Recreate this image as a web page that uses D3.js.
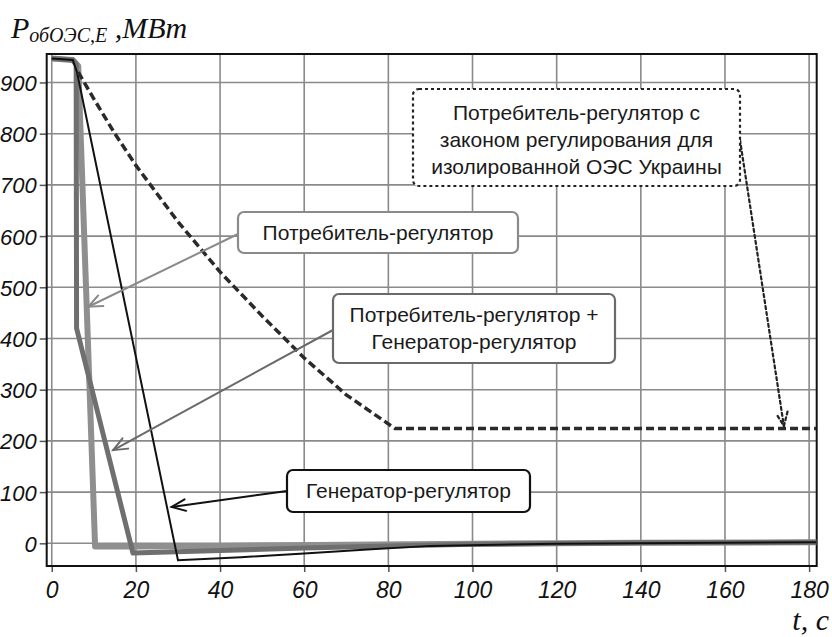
<!DOCTYPE html>
<html>
<head>
<meta charset="utf-8">
<script src="https://cdn.jsdelivr.net/npm/d3@7"></script>
<style>
  html, body { margin: 0; padding: 0; background: #fff; }
  svg { display: block; }
  .tick-label { font-family: "Liberation Sans", Arial, sans-serif; font-style: italic; font-size: 22px; fill: #111; }
  .x-label { font-size: 23px; }
  .note { font-family: "Liberation Sans", Arial, sans-serif; font-size: 21px; fill: #1a1a1a; }
  .title { font-family: "Liberation Serif", "Times New Roman", serif; font-style: italic; fill: #111; }
</style>
</head>
<body>
<div id="chart"></div>
<script>
// Данные (t, c / P, МВт)
const xTicks = [0, 20, 40, 60, 80, 100, 120, 140, 160, 180];
const yTicks = [0, 100, 200, 300, 400, 500, 600, 700, 800, 900];

// Потребитель-регулятор (светло-серая толстая)
const consT = [0, 5, 6.3, 10.3, 20, 40, 70, 100, 140, 181.7];
const consP = [947, 944, 932, -6, -6, -5, -3, -1, 1, 2];

// Потребитель-регулятор + Генератор-регулятор (тёмно-серая)
const bothT = [0, 5, 5.8, 5.9, 19.3, 40, 60, 80, 100, 140, 181.7];
const bothP = [947, 944, 935, 420, -19, -14, -9, -5, -2, 1, 2];

// Генератор-регулятор (тонкая чёрная)
const genT = [0, 5, 6, 30, 45, 60, 75, 90, 120, 181.7];
const genP = [947, 944, 920, -33, -27, -20, -12, -5, -1, 2];

// Закон регулирования для изолированной ОЭС (пунктир)
const isoT = [6.3, 10, 15, 20, 30, 40, 50, 60, 70, 81.6, 181.7];
const isoP = [920, 868, 800, 738, 628, 530, 444, 362, 290, 224, 224];

const width = 832, height = 637;
const plot = {left: 46.7, right: 816.7, top: 54, bottom: 566};

const x = d3.scaleLinear().domain([-1.2, 181.8]).range([plot.left, plot.right]);
const y = d3.scaleLinear().domain([-44.3, 955.6]).range([plot.bottom, plot.top]);

const svg = d3.select("#chart").append("svg")
  .attr("width", width)
  .attr("height", height);

// Сетка
svg.append("g").selectAll("line")
  .data(xTicks).enter().append("line")
  .attr("x1", d => x(d)).attr("x2", d => x(d))
  .attr("y1", plot.top).attr("y2", plot.bottom)
  .attr("stroke", "#8a8a8a").attr("stroke-width", 1.6);

svg.append("g").selectAll("line")
  .data(yTicks).enter().append("line")
  .attr("x1", plot.left).attr("x2", plot.right)
  .attr("y1", d => y(d)).attr("y2", d => y(d))
  .attr("stroke", "#8a8a8a").attr("stroke-width", 1.6);

// Оси
const yAxis = svg.append("g")
  .attr("transform", `translate(${plot.left},0)`)
  .call(d3.axisLeft(y).tickValues(yTicks).tickSize(7).tickPadding(3).tickFormat(d3.format("d")));
const xAxis = svg.append("g")
  .attr("transform", `translate(0,${plot.bottom})`)
  .call(d3.axisBottom(x).tickValues(xTicks).tickSize(6).tickPadding(10).tickFormat(d3.format("d")));

[yAxis, xAxis].forEach(a => {
  a.select(".domain").remove();
  a.selectAll(".tick line").attr("stroke", "#555").attr("stroke-width", 1.5);
  a.selectAll(".tick text").attr("class", "tick-label").attr("fill", null);
});
yAxis.selectAll(".tick text").attr("dy", "0.36em");
xAxis.selectAll(".tick text").classed("x-label", true);

// Рамка
svg.append("rect")
  .attr("x", plot.left).attr("y", plot.top)
  .attr("width", plot.right - plot.left).attr("height", plot.bottom - plot.top)
  .attr("fill", "none").attr("stroke", "#111").attr("stroke-width", 2);

const line = d3.line().x(d => x(d[0])).y(d => y(d[1]));
const zip = (a, b) => a.map((v, i) => [v, b[i]]);

const plotG = svg.append("g");

plotG.append("path")
  .datum(zip(consT, consP))
  .attr("d", line)
  .attr("fill", "none").attr("stroke", "#8f8f8f").attr("stroke-width", 6)
  .attr("stroke-linejoin", "round");

plotG.append("path")
  .datum(zip(bothT, bothP))
  .attr("d", line)
  .attr("fill", "none").attr("stroke", "#6f6f6f").attr("stroke-width", 5)
  .attr("stroke-linejoin", "round");

plotG.append("path")
  .datum(zip(genT, genP))
  .attr("d", line)
  .attr("fill", "none").attr("stroke", "#111").attr("stroke-width", 2);

plotG.append("path")
  .datum(zip(isoT, isoP))
  .attr("d", line)
  .attr("fill", "none").attr("stroke", "#2a2a2a").attr("stroke-width", 3.5)
  .attr("stroke-dasharray", "8,4");

// Стрелка с открытым наконечником
function arrow(x1, y1, x2, y2, color, width, dash) {
  const g = svg.append("g")
    .attr("stroke", color).attr("stroke-width", width).attr("fill", "none")
    .attr("stroke-linecap", "round");
  g.append("line")
    .attr("x1", x1).attr("y1", y1).attr("x2", x2).attr("y2", y2)
    .attr("stroke-dasharray", dash || null);
  const ang = Math.atan2(y2 - y1, x2 - x1);
  const len = 15, spread = 0.4;
  const p = s => [x2 - len * Math.cos(ang + s), y2 - len * Math.sin(ang + s)];
  const a = p(spread), b = p(-spread);
  g.append("path")
    .attr("d", `M${a[0]},${a[1]}L${x2},${y2}L${b[0]},${b[1]}`)
    .attr("stroke-dasharray", dash || null);
}

// Подпись в рамке
function noteBox(x0, y0, w, h, lines, stroke, dash, shift) {
  svg.append("rect")
    .attr("x", x0).attr("y", y0).attr("width", w).attr("height", h)
    .attr("rx", 6).attr("ry", 6)
    .attr("fill", "#fff").attr("stroke", stroke).attr("stroke-width", 2.2)
    .attr("stroke-dasharray", dash || null);
  const lh = 27;
  const first = y0 + h / 2 - (lines.length - 1) * lh / 2 + (shift || 0);
  lines.forEach((t, i) => {
    svg.append("text")
      .attr("class", "note")
      .attr("x", x0 + w / 2)
      .attr("y", first + i * lh)
      .attr("dy", "0.35em")
      .attr("text-anchor", "middle")
      .text(t);
  });
}

arrow(238, 234, x(8.7), y(462), "#8a8a8a", 2);
noteBox(238, 212, 280, 41, ["Потребитель-регулятор"], "#8a8a8a");

arrow(333, 330, x(14.6), y(182), "#6a6a6a", 2);
noteBox(333, 294, 282, 69, ["Потребитель-регулятор +", "Генератор-регулятор"], "#6a6a6a");

arrow(287, 491, x(28.5), y(71), "#111", 2);
noteBox(287, 470, 243, 42, ["Генератор-регулятор"], "#111");

arrow(740, 140, x(174), y(229), "#222", 2.2, "3,3");
noteBox(413, 89, 327, 97, ["Потребитель-регулятор с", "законом регулирования для", "изолированной ОЭС Украины"], "#222", "3,3", 2);

// Заголовки осей
const yt = svg.append("text").attr("class", "title").attr("x", 11).attr("y", 38);
yt.append("tspan").attr("font-size", 30).text("P");
yt.append("tspan").attr("font-size", 20).attr("dy", 4).text("обОЭС,Е");
yt.append("tspan").attr("font-size", 30).attr("dy", -4).text(" ,MBm");

svg.append("text").attr("class", "title")
  .attr("x", 829).attr("y", 630)
  .attr("text-anchor", "end")
  .attr("font-size", 30)
  .text("t, c");
</script>
</body>
</html>
